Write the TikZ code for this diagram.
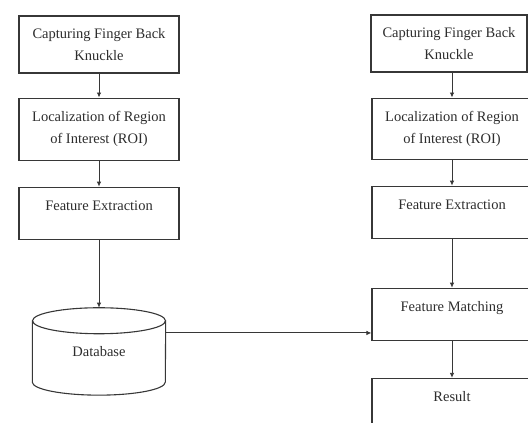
\documentclass[tikz,border=0pt]{standalone}
\usepackage{fontspec}
\setmainfont{Liberation Serif}
\usetikzlibrary{arrows.meta,positioning}
\definecolor{knuckleline}{RGB}{55,55,55}
\definecolor{knuckletext}{RGB}{45,45,45}

\begin{document}
\begin{tikzpicture}[x=1pt,y=1pt,
  node distance=24pt and 24pt,
  stepbox/.style={rectangle,draw=knuckleline,line width=1.1pt,minimum width=160pt,inner sep=0pt,align=center,text=knuckletext,font=\fontsize{14.5}{22}\selectfont},
  twoline/.style={stepbox,minimum height=#1},
  oneline/.style={stepbox,text height=23pt,text depth=29pt},
  dbbox/.style={rectangle,draw=none,minimum width=133pt,minimum height=87pt,inner sep=0pt,text=knuckletext,font=\fontsize{14.5}{22}\selectfont},
  dbline/.style={draw=knuckleline,line width=1.1pt},
  arrow/.style={-{Latex[length=5pt,width=4.5pt]},line width=0.9pt,draw=knuckleline}]
  \useasboundingbox (0,0) rectangle (528,423);
  \clip (0,0) rectangle (528,423);
  \node[twoline=57pt] (lcapture) at (99,378.5) {Capturing Finger Back\\Knuckle};
  \node[twoline=62pt,below=24pt of lcapture] (lroi) {Localization of Region\\of Interest (ROI)};
  \node[oneline,below=26pt of lroi] (lfeature) {Feature Extraction};
  \node[dbbox,below=68pt of lfeature] (database) {Database};
  \draw[dbline] ([yshift=-13pt]database.north) ellipse [x radius=66.5pt,y radius=13pt];
  \draw[dbline] ([yshift=-13pt]database.north west) -- ([yshift=13pt]database.south west) arc [start angle=180,end angle=360,x radius=66.5pt,y radius=13pt] -- ([yshift=-13pt]database.north east);
  \node[twoline=57pt,minimum width=156pt] (rcapture) at (449,379.5) {Capturing Finger Back\\Knuckle};
  \node[twoline=61pt,below=25pt of rcapture,xshift=3pt] (rroi) {Localization of Region\\of Interest (ROI)};
  \node[oneline,below=26pt of rroi] (rfeature) {Feature Extraction};
  \node[oneline,below=49pt of rfeature] (matching) {Feature Matching};
  \node[oneline,below=37pt of matching] (result) {Result};
  \draw[arrow] (lcapture) -- (lroi); \draw[arrow] (lroi) -- (lfeature); \draw[arrow] (lfeature) -- (database);
  \draw[arrow] (rcapture.south -| rroi) -- (rroi); \draw[arrow] (rroi) -- (rfeature); \draw[arrow] (rfeature) -- (matching); \draw[arrow] (matching) -- (result);
  \draw[arrow] ([yshift=18.5pt]database.east) -- ([yshift=18.5pt]database.east -| matching.west);
\end{tikzpicture}
\end{document}
